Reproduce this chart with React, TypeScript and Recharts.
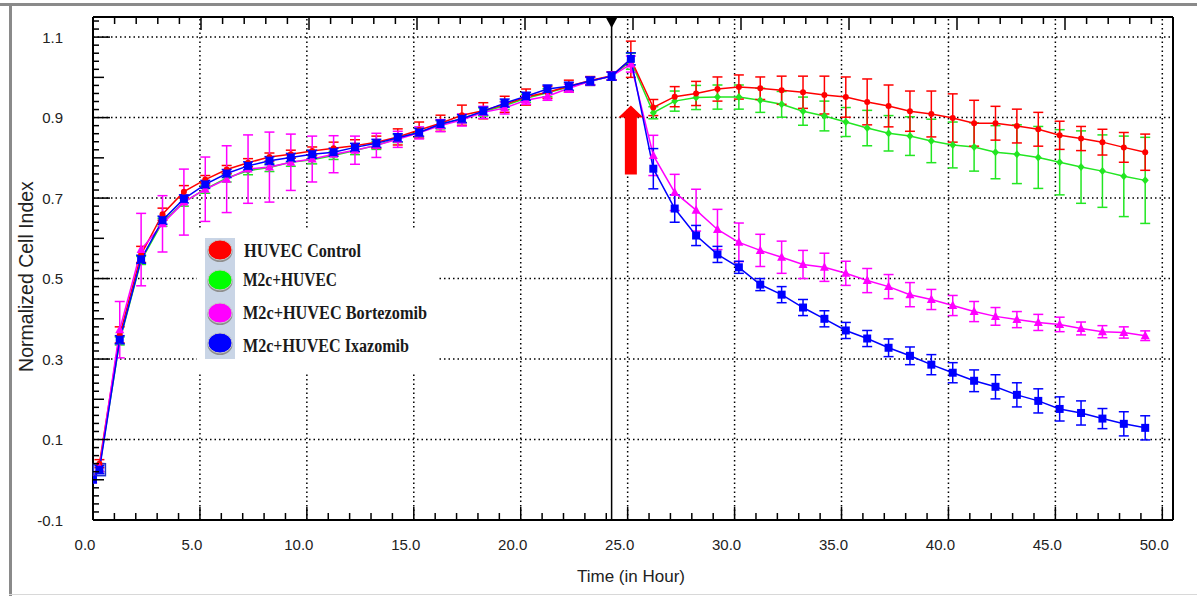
import React from 'react';
import {
  LineChart,
  Line,
  XAxis,
  YAxis,
  ErrorBar,
  ReferenceLine,
  ReferenceDot,
  Legend,
} from 'recharts';

// Sampling times (hours). Compound added after the 24.25 h reading.
const TIME_H = [
  0, 0.3, 1.25, 2.25, 3.25, 4.25, 5.25, 6.25, 7.25, 8.25, 9.25, 10.25, 11.25,
  12.25, 13.25, 14.25, 15.25, 16.25, 17.25, 18.25, 19.25, 20.25, 21.25, 22.25,
  23.25, 24.25, 25.15, 26.2, 27.2, 28.2, 29.2, 30.2, 31.2, 32.2, 33.2, 34.2,
  35.2, 36.2, 37.2, 38.2, 39.2, 40.2, 41.2, 42.2, 43.2, 44.2, 45.2, 46.2, 47.2,
  48.2, 49.2,
];

const HUVEC_CONTROL = [
  0, 0.04, 0.36, 0.56, 0.66, 0.716, 0.746, 0.771, 0.788, 0.802, 0.809, 0.817,
  0.824, 0.83, 0.839, 0.852, 0.869, 0.886, 0.906, 0.917, 0.933, 0.951, 0.963,
  0.978, 0.992, 1.004, 1.045, 0.925, 0.952, 0.96, 0.971, 0.976, 0.973, 0.968,
  0.963, 0.956, 0.951, 0.939, 0.929, 0.916, 0.909, 0.899, 0.886, 0.886, 0.879,
  0.871, 0.856, 0.848, 0.839, 0.826, 0.814,
];
const HUVEC_CONTROL_SD = [
  0, 0.01, 0.02, 0.02, 0.015, 0.015, 0.01, 0.01, 0.01, 0.01, 0.01, 0.01, 0.015,
  0.015, 0.015, 0.02, 0.02, 0.02, 0.025, 0.02, 0.02, 0.02, 0.015, 0.015, 0.01,
  0.01, 0.045, 0.02, 0.025, 0.03, 0.03, 0.03, 0.028, 0.035, 0.04, 0.047, 0.05,
  0.057, 0.052, 0.05, 0.057, 0.06, 0.057, 0.042, 0.042, 0.042, 0.035, 0.03,
  0.032, 0.037, 0.045,
];

const M2C_HUVEC = [
  0, 0.03, 0.345, 0.545, 0.64, 0.69, 0.722, 0.75, 0.768, 0.776, 0.789, 0.795,
  0.806, 0.818, 0.831, 0.848, 0.864, 0.882, 0.898, 0.914, 0.93, 0.948, 0.962,
  0.976, 0.99, 1.003, 1.04, 0.912, 0.941, 0.95, 0.951, 0.951, 0.943, 0.933,
  0.916, 0.904, 0.889, 0.874, 0.861, 0.854, 0.842, 0.832, 0.827, 0.814, 0.809,
  0.801, 0.789, 0.777, 0.767, 0.754, 0.744,
];
const M2C_HUVEC_SD = [
  0, 0.01, 0.01, 0.01, 0.01, 0.01, 0.01, 0.01, 0.01, 0.01, 0.01, 0.01, 0.01,
  0.01, 0.01, 0.01, 0.01, 0.01, 0.01, 0.01, 0.01, 0.01, 0.01, 0.01, 0.01, 0.01,
  0.02, 0.015, 0.025, 0.03, 0.03, 0.03, 0.03, 0.032, 0.035, 0.037, 0.036, 0.044,
  0.044, 0.048, 0.054, 0.057, 0.06, 0.066, 0.073, 0.077, 0.081, 0.09, 0.09, 0.1,
  0.107,
];

const M2C_BORTEZOMIB = [
  0, 0.03, 0.373, 0.572, 0.636, 0.69, 0.722, 0.747, 0.772, 0.777, 0.789, 0.797,
  0.809, 0.819, 0.831, 0.846, 0.862, 0.88, 0.894, 0.913, 0.924, 0.943, 0.953,
  0.973, 0.99, 1.003, 1.033, 0.806, 0.714, 0.67, 0.622, 0.59, 0.57, 0.553,
  0.535, 0.528, 0.513, 0.495, 0.48, 0.46, 0.448, 0.433, 0.418, 0.406, 0.398,
  0.391, 0.386, 0.376, 0.368, 0.366, 0.358,
];
const M2C_BORTEZOMIB_SD = [
  0, 0.01, 0.07, 0.09, 0.07, 0.082, 0.08, 0.083, 0.085, 0.087, 0.07, 0.057,
  0.046, 0.035, 0.03, 0.02, 0.015, 0.015, 0.015, 0.015, 0.015, 0.01, 0.01, 0.01,
  0.01, 0.01, 0.02, 0.05, 0.045, 0.052, 0.05, 0.048, 0.04, 0.04, 0.035, 0.035,
  0.03, 0.03, 0.03, 0.03, 0.025, 0.025, 0.025, 0.022, 0.02, 0.02, 0.018, 0.016,
  0.015, 0.014, 0.012,
];

const M2C_IXAZOMIB = [
  0, 0.025, 0.348, 0.548, 0.645, 0.698, 0.734, 0.761, 0.78, 0.793, 0.801, 0.809,
  0.814, 0.826, 0.836, 0.85, 0.863, 0.884, 0.897, 0.916, 0.936, 0.953, 0.971,
  0.978, 0.991, 1.003, 1.046, 0.773, 0.674, 0.607, 0.56, 0.528, 0.485, 0.46,
  0.428, 0.4, 0.371, 0.351, 0.328, 0.308, 0.286, 0.266, 0.246, 0.231, 0.211,
  0.196, 0.176, 0.166, 0.152, 0.139, 0.129,
];
const M2C_IXAZOMIB_SD = [
  0, 0.01, 0.01, 0.01, 0.01, 0.01, 0.01, 0.01, 0.01, 0.01, 0.01, 0.01, 0.01,
  0.01, 0.01, 0.01, 0.01, 0.01, 0.01, 0.01, 0.01, 0.01, 0.01, 0.01, 0.01, 0.01,
  0.015, 0.05, 0.034, 0.025, 0.02, 0.015, 0.015, 0.02, 0.02, 0.02, 0.02, 0.02,
  0.022, 0.022, 0.025, 0.025, 0.027, 0.03, 0.03, 0.03, 0.03, 0.03, 0.025, 0.03,
  0.03,
];

const SERIES_NAMES = [
  'HUVEC Control',
  'M2c+HUVEC',
  'M2c+HUVEC Bortezomib',
  'M2c+HUVEC Ixazomib',
];
const SERIES_COLORS = ['#ff0000', '#22e622', '#ff00ff', '#0000ff'];
const LEGEND_COLORS = ['#ff0000', '#00ff00', '#ff00ff', '#0000ff'];

const X_TICKS = [0, 5, 10, 15, 20, 25, 30, 35, 40, 45, 50];
const X_TICK_LABELS = ['0.0', '5.0', '10.0', '15.0', '20.0', '25.0', '30.0', '35.0', '40.0', '45.0', '50.0'];
const Y_TICKS = [-0.1, 0.1, 0.3, 0.5, 0.7, 0.9, 1.1];
const Y_TICK_LABELS = ['-0.1', '0.1', '0.3', '0.5', '0.7', '0.9', '1.1'];
const X_GRID = [5, 10, 15, 20, 25, 30, 35, 40, 45, 50];
const Y_GRID = [0.1, 0.3, 0.5, 0.7, 0.9, 1.1];

const X_DOMAIN: [number, number] = [0, 50.5];
const Y_DOMAIN: [number, number] = [-0.1, 1.15];

const ADDITION_TIME = 24.25;
const ARROW_AT = { t: 25.15, v: 0.93 };
const SELECTED_INDEX = 1; // highlighted reading (hollow square)

// Minor tick positions for the instrument-style frame
const X_MINOR = Array.from({ length: 51 }, (_, i) => i);
const Y_MINOR = Array.from({ length: 63 }, (_, i) => Number((-0.1 + i * 0.02).toFixed(2)));

const data = TIME_H.map((t, i) => ({
  t,
  ctrl: HUVEC_CONTROL[i],
  ctrlSd: HUVEC_CONTROL_SD[i],
  m2c: M2C_HUVEC[i],
  m2cSd: M2C_HUVEC_SD[i],
  bort: M2C_BORTEZOMIB[i],
  bortSd: M2C_BORTEZOMIB_SD[i],
  ixa: M2C_IXAZOMIB[i],
  ixaSd: M2C_IXAZOMIB_SD[i],
}));

const SANS = "'Liberation Sans', Arial, sans-serif";
const SERIF = "'Liberation Serif', 'Times New Roman', serif";
const TICK_STROKE = { stroke: '#000', strokeWidth: 1.5 };

const near = (a: number, b: number) => Math.abs(a - b) < 1e-6;

// Bottom axis: inward tick marks (long every 5 h) plus the hour labels
const XBottomTick = (props: any) => {
  const { x, y, payload } = props;
  const v = payload.value;
  const k = X_TICKS.findIndex((m) => near(m, v));
  const major = k >= 0;
  return (
    <g>
      <line x1={x} x2={x} y1={y} y2={y - (major ? 13 : 7)} {...TICK_STROKE} />
      {major && (
        <text x={x - 8} y={y + 30} textAnchor="middle" fontFamily={SANS} fontSize={15} fill="#222">
          {X_TICK_LABELS[k]}
        </text>
      )}
    </g>
  );
};

// Top frame: inward tick marks only
const XTopTick = (props: any) => {
  const { x, y, payload } = props;
  const major = X_TICKS.some((m) => near(m, payload.value));
  return <line x1={x} x2={x} y1={y} y2={y + (major ? 13 : 7)} {...TICK_STROKE} />;
};

// Left axis: minor, tenth and labelled ticks
const YLeftTick = (props: any) => {
  const { x, y, payload } = props;
  const v = payload.value;
  const k = Y_TICKS.findIndex((m) => near(m, v));
  const tenth = near(v * 10, Math.round(v * 10));
  const len = k >= 0 ? 17 : tenth ? 11 : 6;
  return (
    <g>
      <line x1={x} x2={x + len} y1={y} y2={y} {...TICK_STROKE} />
      {k >= 0 && (
        <text x={x - 30} y={y + 5.5} textAnchor="end" fontFamily={SANS} fontSize={15} fill="#222">
          {Y_TICK_LABELS[k]}
        </text>
      )}
    </g>
  );
};

const XTitle = (props: any) => {
  const vb = props.viewBox;
  return (
    <text x={vb.x + vb.width / 2 - 2} y={vb.y + 62} textAnchor="middle" fontFamily={SANS} fontSize={17} fill="#222">
      Time (in Hour)
    </text>
  );
};

const YTitle = (props: any) => {
  const vb = props.viewBox;
  const cx = vb.x + 20;
  const cy = vb.y + vb.height / 2 + 8;
  return (
    <text
      x={cx}
      y={cy}
      transform={`rotate(-90 ${cx} ${cy})`}
      textAnchor="middle"
      fontFamily={SANS}
      fontSize={19.5}
      fill="#222"
    >
      Normalized Cell Index
    </text>
  );
};

const circleDot = (color: string) => (p: any) =>
  p.cx == null ? null : <circle key={`c${p.index}`} cx={p.cx} cy={p.cy} r={3} fill={color} />;

const diamondDot = (color: string) => (p: any) =>
  p.cx == null ? null : (
    <path
      key={`d${p.index}`}
      d={`M${p.cx} ${p.cy - 4}L${p.cx + 3.5} ${p.cy}L${p.cx} ${p.cy + 4}L${p.cx - 3.5} ${p.cy}Z`}
      fill={color}
    />
  );

const triangleDot = (color: string) => (p: any) =>
  p.cx == null ? null : (
    <path
      key={`t${p.index}`}
      d={`M${p.cx} ${p.cy - 5}L${p.cx + 4.5} ${p.cy + 3.5}L${p.cx - 4.5} ${p.cy + 3.5}Z`}
      fill={color}
    />
  );

const squareDot = (color: string) => (p: any) =>
  p.cx == null ? null : (
    <rect key={`s${p.index}`} x={p.cx - 4} y={p.cy - 4} width={8} height={8} fill={color} />
  );

const AdditionMarker = (props: any) => {
  const vb = props.viewBox;
  const x = vb.x;
  const y = vb.y;
  return <path d={`M${x - 5.5} ${y + 1}L${x + 5.5} ${y + 1}L${x} ${y + 11}Z`} fill="#000" />;
};

const UpArrow = (props: any) => {
  const { cx, cy } = props;
  if (cx == null) return null;
  return (
    <path
      d={`M${cx} ${cy}L${cx + 12.5} ${cy + 12}L${cx + 6} ${cy + 12}L${cx + 6} ${cy + 69}L${cx - 6} ${cy + 69}L${cx - 6} ${cy + 12}L${cx - 12.5} ${cy + 12}Z`}
      fill="#ff0000"
    />
  );
};

const SelectionBox = (props: any) => {
  const { cx, cy } = props;
  if (cx == null) return null;
  return <rect x={cx - 6} y={cy - 6} width={12} height={12} fill="none" stroke="#2233cc" strokeWidth={1.5} />;
};

const LEGEND_ICON_Y = [22, 52, 85, 115];
const LEGEND_TEXT_Y = [29, 58, 91, 124];
const LEGEND_TEXT_W = [117, 94, 184, 166];

const LegendBox = () => (
  <svg width={290} height={145} style={{ display: 'block', overflow: 'visible' }}>
    <rect x={0} y={0} width={241} height={145} fill="#fff" />
    <rect x={8} y={10} width={30} height={121} fill="#c9d5e6" />
    {SERIES_NAMES.map((name, i) => (
      <g key={name}>
        <ellipse cx={23} cy={LEGEND_ICON_Y[i] + 1.5} rx={12.5} ry={10.5} fill="#8e8e8e" />
        <ellipse cx={23} cy={LEGEND_ICON_Y[i]} rx={12} ry={10} fill={LEGEND_COLORS[i]} stroke="#c8c8c8" strokeWidth={1} />
        <text
          x={i === 0 ? 47 : 46}
          y={LEGEND_TEXT_Y[i]}
          fontFamily={SERIF}
          fontWeight="bold"
          fontSize={18}
          fill="#1a1a1a"
          textLength={LEGEND_TEXT_W[i]}
          lengthAdjust="spacingAndGlyphs"
        >
          {name}
        </text>
      </g>
    ))}
  </svg>
);

const GRID_STYLE = { stroke: '#000', strokeWidth: 1.5, strokeDasharray: '1.5 3' };

export default function App() {
  return (
    <div style={{ position: 'absolute', left: 0, top: 0, width: 1197, height: 596, background: '#fff', overflow: 'hidden' }}>
      <div style={{ position: 'absolute', left: 0, top: 3, width: 1197, height: 3, background: '#8a8a8a' }} />
      <div style={{ position: 'absolute', left: 9, top: 3, width: 3, height: 593, background: '#8a8a8a' }} />
      <div style={{ position: 'absolute', left: 9, top: 594, width: 1188, height: 1, background: '#d8d8d8' }} />
      <div style={{ position: 'absolute', left: 0, top: 0 }}>
        <LineChart
          width={1197}
          height={596}
          data={data}
          margin={{ top: 0, right: 0, bottom: 26, left: 13 }}
        >
          <XAxis
            xAxisId="x"
            dataKey="t"
            type="number"
            domain={X_DOMAIN}
            allowDataOverflow
            ticks={X_MINOR}
            interval={0}
            tickSize={0}
            tickMargin={0}
            tickLine={false}
            axisLine={{ stroke: '#000', strokeWidth: 2 }}
            tick={<XBottomTick />}
            height={50}
            label={<XTitle />}
          />
          <XAxis
            xAxisId="xTop"
            type="number"
            orientation="top"
            domain={X_DOMAIN}
            allowDataOverflow
            ticks={X_MINOR}
            interval={0}
            tickSize={0}
            tickMargin={0}
            tickLine={false}
            axisLine={{ stroke: '#000', strokeWidth: 2 }}
            tick={<XTopTick />}
            height={17}
          />
          <YAxis
            yAxisId="y"
            type="number"
            domain={Y_DOMAIN}
            allowDataOverflow
            ticks={Y_MINOR}
            interval={0}
            tickSize={0}
            tickMargin={0}
            tickLine={false}
            axisLine={{ stroke: '#000', strokeWidth: 2 }}
            tick={<YLeftTick />}
            width={80}
            label={<YTitle />}
          />
          <YAxis
            yAxisId="yRight"
            type="number"
            orientation="right"
            domain={Y_DOMAIN}
            allowDataOverflow
            ticks={Y_TICKS}
            interval={0}
            tick={false}
            tickLine={false}
            axisLine={{ stroke: '#000', strokeWidth: 2 }}
            width={24}
          />

          {X_GRID.map((g) => (
            <ReferenceLine key={`gx${g}`} xAxisId="x" yAxisId="y" x={g} {...GRID_STYLE} />
          ))}
          {Y_GRID.map((g) => (
            <ReferenceLine key={`gy${g}`} xAxisId="x" yAxisId="y" y={g} {...GRID_STYLE} />
          ))}

          <ReferenceLine
            xAxisId="x"
            yAxisId="y"
            x={ADDITION_TIME}
            stroke="#000"
            strokeWidth={1.5}
            label={<AdditionMarker />}
          />

          <Line
            xAxisId="x"
            yAxisId="y"
            dataKey="m2c"
            name={SERIES_NAMES[1]}
            stroke={SERIES_COLORS[1]}
            strokeWidth={1.5}
            dot={diamondDot(SERIES_COLORS[1])}
            isAnimationActive={false}
          >
            <ErrorBar dataKey="m2cSd" direction="y" width={5} stroke={SERIES_COLORS[1]} strokeWidth={1.5} />
          </Line>
          <Line
            xAxisId="x"
            yAxisId="y"
            dataKey="ctrl"
            name={SERIES_NAMES[0]}
            stroke={SERIES_COLORS[0]}
            strokeWidth={1.5}
            dot={circleDot(SERIES_COLORS[0])}
            isAnimationActive={false}
          >
            <ErrorBar dataKey="ctrlSd" direction="y" width={5} stroke={SERIES_COLORS[0]} strokeWidth={1.5} />
          </Line>
          <Line
            xAxisId="x"
            yAxisId="y"
            dataKey="bort"
            name={SERIES_NAMES[2]}
            stroke={SERIES_COLORS[2]}
            strokeWidth={1.5}
            dot={triangleDot(SERIES_COLORS[2])}
            isAnimationActive={false}
          >
            <ErrorBar dataKey="bortSd" direction="y" width={5} stroke={SERIES_COLORS[2]} strokeWidth={1.5} />
          </Line>
          <Line
            xAxisId="x"
            yAxisId="y"
            dataKey="ixa"
            name={SERIES_NAMES[3]}
            stroke={SERIES_COLORS[3]}
            strokeWidth={1.5}
            dot={squareDot(SERIES_COLORS[3])}
            isAnimationActive={false}
          >
            <ErrorBar dataKey="ixaSd" direction="y" width={5} stroke={SERIES_COLORS[3]} strokeWidth={1.5} />
          </Line>

          <ReferenceDot
            xAxisId="x"
            yAxisId="y"
            x={TIME_H[SELECTED_INDEX]}
            y={M2C_IXAZOMIB[SELECTED_INDEX]}
            shape={<SelectionBox />}
          />
          <ReferenceDot
            xAxisId="x"
            yAxisId="y"
            x={ARROW_AT.t}
            y={ARROW_AT.v}
            shape={<UpArrow />}
          />

          <Legend
            layout="vertical"
            align="center"
            verticalAlign="middle"
            wrapperStyle={{ left: 197, top: 228, width: 241, height: 145 }}
            content={<LegendBox />}
          />
        </LineChart>
      </div>
    </div>
  );
}
